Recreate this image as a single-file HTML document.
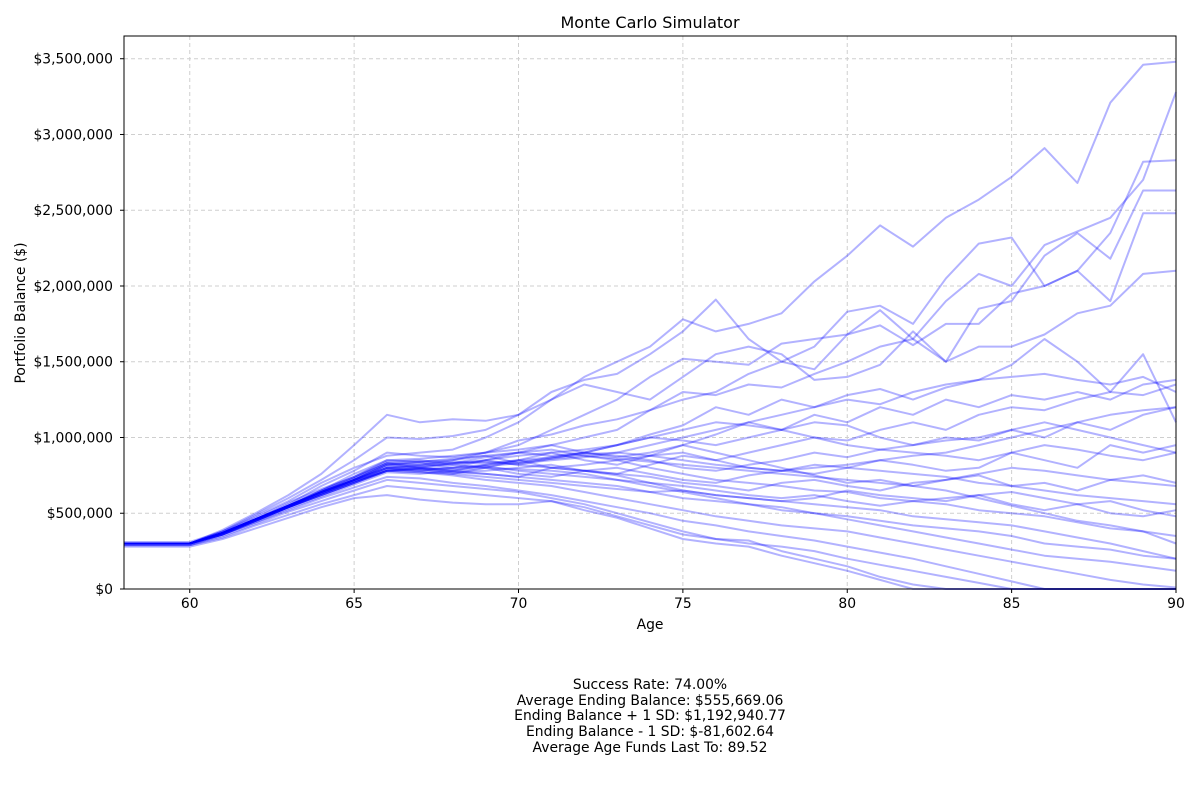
<!DOCTYPE html>
<html><head><meta charset="utf-8"><style>
body{margin:0;background:#fff;}
svg text{font-family:"DejaVu Sans","Liberation Sans",sans-serif;fill:#000;}
</style></head><body>
<svg id="chart" width="1200" height="800" xmlns="http://www.w3.org/2000/svg">
<text x="650" y="28" font-size="16" text-anchor="middle">Monte Carlo Simulator</text>
<g id="grid"></g>
<g id="lines"></g>
<g id="axes"></g>
<text x="650" y="629" font-size="13.9" text-anchor="middle">Age</text>
<text transform="translate(25,313) rotate(-90)" font-size="13.9" text-anchor="middle">Portfolio Balance ($)</text>
<g font-size="13.9" text-anchor="middle">
<text x="650" y="689">Success Rate: 74.00%</text>
<text x="650" y="705">Average Ending Balance: $555,669.06</text>
<text x="650" y="720">Ending Balance + 1 SD: $1,192,940.77</text>
<text x="650" y="736">Ending Balance - 1 SD: $-81,602.64</text>
<text x="650" y="752">Average Age Funds Last To: 89.52</text>
</g>
</svg>
<script>
const xTicks=[60,65,70,75,80,85,90];
const yTicks=[0,500000,1000000,1500000,2000000,2500000,3000000,3500000];
const yTickLabels=["$0","$500,000","$1,000,000","$1,500,000","$2,000,000","$2,500,000","$3,000,000","$3,500,000"];
const startAge=58;
// balances in thousands, ages 58..90
const series=[
[300,300,300,390,500,620,760,950,1150,1100,1120,1110,1150,1250,1400,1500,1600,1780,1700,1750,1820,2030,2200,2400,2260,2450,2570,2720,2910,2680,3210,3460,3480],
[300,300,300,380,490,600,720,850,1000,990,1010,1050,1150,1300,1380,1420,1550,1700,1910,1650,1500,1600,1830,1870,1750,2050,2280,2320,2000,2100,2350,2820,2830],
[300,300,300,370,460,560,680,780,900,880,870,900,950,1050,1150,1250,1400,1520,1500,1480,1620,1650,1680,1840,1650,1900,2080,2000,2270,2360,2450,2700,3280],
[300,300,300,380,480,580,700,800,880,900,920,1000,1100,1250,1350,1300,1250,1400,1550,1600,1550,1380,1400,1480,1700,1500,1850,1900,2200,2350,2180,2630,2630],
[300,300,300,370,460,550,650,760,850,840,850,900,980,1020,1080,1120,1180,1250,1300,1420,1500,1450,1680,1740,1610,1750,1750,1950,2000,2100,1900,2480,2480],
[300,300,300,360,450,540,630,720,820,830,800,850,900,950,1000,1050,1180,1300,1280,1350,1330,1420,1500,1600,1650,1500,1600,1600,1680,1820,1870,2080,2100],
[310,310,310,380,470,570,660,740,830,820,850,880,830,870,900,950,1020,1080,1200,1150,1250,1200,1280,1320,1250,1330,1380,1480,1650,1500,1300,1550,1100],
[290,290,290,360,450,540,620,700,790,800,780,820,850,900,850,820,880,950,1020,1100,1050,1150,1100,1200,1150,1250,1200,1280,1250,1300,1250,1350,1380],
[300,300,300,370,460,550,640,720,800,780,760,800,850,800,780,760,820,880,850,900,950,1000,980,1050,1100,1050,1150,1200,1180,1250,1300,1280,1350],
[300,300,300,370,450,540,630,710,780,800,830,850,820,860,900,880,850,800,780,820,850,900,870,920,950,1000,980,1050,1000,1100,1050,1150,1200],
[300,300,300,360,440,530,610,690,770,760,780,800,760,740,780,800,760,720,700,750,780,760,800,850,820,780,800,900,850,800,950,900,950],
[300,300,300,370,460,540,620,700,780,790,770,780,800,820,780,760,740,700,680,650,700,720,680,650,700,720,750,680,700,650,720,750,700],
[300,300,300,370,460,550,640,720,820,810,830,840,820,800,780,750,700,680,650,620,600,620,580,550,580,600,620,560,520,560,500,480,520],
[300,300,300,360,450,540,630,710,800,790,770,760,740,720,700,680,640,600,580,560,520,500,480,450,420,400,380,350,300,280,260,220,200],
[300,300,300,370,460,550,640,710,780,770,750,720,700,680,640,600,560,520,480,450,420,400,380,340,300,260,220,180,140,100,60,30,10],
[300,300,300,360,440,520,600,670,740,730,700,680,650,620,580,540,500,450,420,380,350,320,280,240,200,150,100,50,0,0,0,0,0],
[290,290,290,350,430,510,580,650,720,700,680,660,640,600,560,500,440,380,330,300,280,250,200,160,120,80,40,0,0,0,0,0,0],
[290,290,290,340,420,490,560,620,680,660,640,620,600,580,520,470,400,330,300,280,220,170,120,60,0,0,0,0,0,0,0,0,0],
[280,280,280,330,400,470,540,600,620,590,570,560,560,580,540,480,420,360,330,320,250,200,150,80,30,0,0,0,0,0,0,0,0],
[300,300,300,370,460,550,640,720,820,840,860,880,900,880,900,950,1000,1050,1100,1080,1050,1000,950,920,900,880,850,900,950,920,880,850,900],
[300,300,300,370,460,550,650,740,850,860,880,900,920,950,900,870,900,950,900,850,800,750,700,720,680,650,600,550,500,450,420,380,350],
[300,300,300,370,460,550,640,720,800,820,840,830,850,870,890,900,880,850,820,800,780,800,820,850,880,900,950,1000,1050,1100,1150,1180,1200],
[300,300,300,360,450,540,620,700,780,790,800,810,780,760,740,720,700,650,620,600,580,600,650,620,600,580,620,640,600,560,580,520,480],
[300,300,300,370,460,550,640,730,830,800,780,760,740,800,820,850,880,900,850,800,780,820,800,780,760,740,700,680,650,620,600,580,560],
[300,300,300,370,460,550,650,740,840,850,830,870,900,920,880,850,800,760,720,700,680,650,640,600,580,560,520,500,480,440,400,380,300],
[300,300,300,370,460,550,640,720,800,810,820,800,790,780,760,720,680,640,600,560,540,500,460,420,380,340,300,260,220,200,180,150,120],
[300,300,300,370,450,540,630,720,810,800,790,810,830,850,870,900,950,1000,1050,1100,1150,1200,1250,1220,1300,1350,1380,1400,1420,1380,1350,1400,1300],
[300,300,300,370,460,550,640,730,830,840,820,850,880,900,920,950,1000,980,950,1000,1050,1100,1080,1000,950,980,1000,1050,1100,1050,1000,950,900],
[300,300,300,360,450,540,620,700,780,770,760,740,720,700,680,660,640,650,620,600,580,560,540,520,480,460,440,420,380,340,300,250,200],
[300,300,300,370,460,540,630,710,790,780,800,820,840,860,880,860,840,820,800,780,760,740,720,700,680,720,760,800,780,750,720,700,680]
];
const L=124,R=1176,T=36,B=589;
const xMin=58,xMax=90,yMin=0,yMax=3650000;
function xs(a){return L+(a-xMin)/(xMax-xMin)*(R-L);}
function ys(v){return B-(v-yMin)/(yMax-yMin)*(B-T);}
const NS="http://www.w3.org/2000/svg";
function mk(tag,attrs,parent){const e=document.createElementNS(NS,tag);for(const k in attrs)e.setAttribute(k,attrs[k]);parent.appendChild(e);return e;}
const grid=document.getElementById('grid'),lines=document.getElementById('lines'),axes=document.getElementById('axes');
xTicks.forEach(t=>{
 const g=mk('line',{x1:xs(t),x2:xs(t),y1:T,y2:B,stroke:'#cfcfcf','stroke-dasharray':'4,3'},grid);
 
 
});
yTicks.forEach(t=>{
 const g=mk('line',{x1:L,x2:R,y1:ys(t),y2:ys(t),stroke:'#cfcfcf','stroke-dasharray':'4,3'},grid);
 
 
});
series.forEach((s,i)=>{
 const d=s.map((v,j)=>(j?'L':'M')+xs(startAge+j).toFixed(1)+','+ys(Math.max(0,v*1000)).toFixed(1)).join('');
 const p=mk('path',{d:d,fill:'none',stroke:'#0000ff','stroke-opacity':0.3,'stroke-width':2,'stroke-linejoin':'round'},lines);
 
 
});
mk('rect',{x:L,y:T,width:R-L,height:B-T,fill:'none',stroke:'#000','stroke-width':1},axes);
xTicks.forEach(t=>{
 mk('line',{x1:xs(t),x2:xs(t),y1:B,y2:B+4,stroke:'#000'},axes);
 const tx=mk('text',{x:xs(t),y:B+19,'font-size':13.9,'text-anchor':'middle'},axes);
 tx.textContent=t;
 
 
});
yTicks.forEach((t,i)=>{
 mk('line',{x1:L-4,x2:L,y1:ys(t),y2:ys(t),stroke:'#000'},axes);
 const tx=mk('text',{x:L-11,y:ys(t)+5,'font-size':13.9,'text-anchor':'end'},axes);
 tx.textContent=yTickLabels[i];
 
 
});
</script>
</body></html>
